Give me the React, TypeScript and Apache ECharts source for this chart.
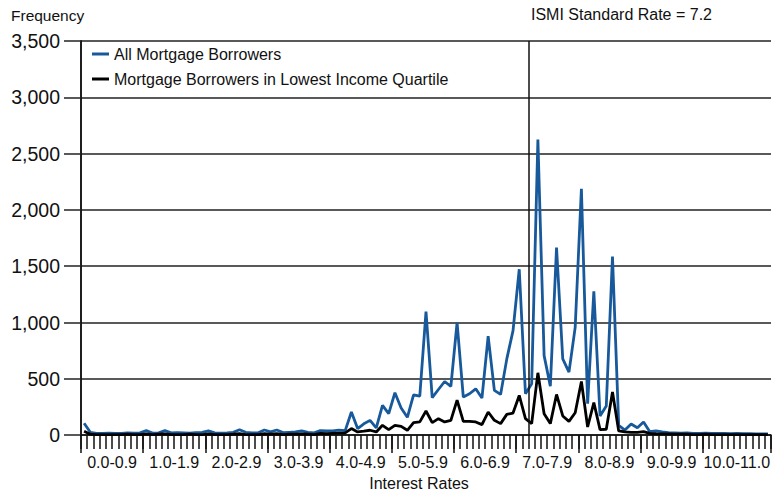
import React, { useEffect, useRef } from "react";
import * as echarts from "echarts";

// Interest-rate categories 0.0 ... 11.0 (step 0.1)
const rates: string[] = Array.from({ length: 111 }, (_, i) => (i / 10).toFixed(1));

const groupLabels = [
  "0.0-0.9", "1.0-1.9", "2.0-2.9", "3.0-3.9", "4.0-4.9", "5.0-5.9",
  "6.0-6.9", "7.0-7.9", "8.0-8.9", "9.0-9.9", "10.0-11.0",
];
// group label positions on the category scale (band units)
const groupLabelPos = [5, 15, 25, 35, 45, 55, 65, 75, 85, 95, 105.5];
const majorTickPos = [0, 10, 20, 30, 40, 50, 60, 70, 80, 90, 100, 111];

const allBorrowers = [
  105, 25, 15, 15, 18, 15, 15, 20, 18, 20,
  40, 18, 20, 40, 20, 22, 20, 18, 22, 25,
  38, 20, 18, 20, 25, 48, 25, 20, 20, 45,
  28, 45, 22, 25, 28, 38, 25, 20, 40, 38,
  38, 45, 40, 205, 58, 100, 131, 64, 264, 190,
  376, 240, 158, 358, 347, 1096, 332, 405, 476, 432,
  1000, 338, 367, 411, 329, 878, 397, 361, 677, 928,
  1473, 367, 456, 2624, 706, 435, 1665, 677, 559, 957,
  2188, 279, 1276, 170, 258, 1586, 87, 45, 98, 65,
  117, 30, 38, 28, 22, 20, 18, 20, 15, 15,
  18, 15, 15, 15, 12, 15, 12, 12, 10, 10, 10,
];

const lowestQuartile = [
  35, 8, 5, 5, 5, 5, 5, 8, 5, 5,
  10, 5, 8, 10, 5, 5, 5, 8, 5, 5,
  10, 5, 5, 5, 8, 12, 5, 5, 5, 12,
  8, 12, 5, 8, 8, 10, 8, 5, 15, 12,
  15, 18, 20, 58, 28, 35, 43, 28, 87, 49,
  87, 78, 43, 111, 117, 214, 111, 146, 117, 130,
  311, 122, 122, 117, 93, 205, 131, 102, 184, 196,
  352, 146, 102, 553, 190, 102, 361, 170, 122, 199,
  476, 72, 288, 49, 52, 382, 37, 28, 25, 25,
  30, 15, 12, 10, 10, 8, 8, 8, 5, 5,
  8, 5, 5, 5, 5, 5, 5, 5, 5, 5, 5,
];

const ismiRate = 7.2;
const seriesNames = ["All Mortgage Borrowers", "Mortgage Borrowers in Lowest Income Quartile"];
const yTicks = [0, 500, 1000, 1500, 2000, 2500, 3000, 3500];

const FONT = "Liberation Sans, Arial, Helvetica, sans-serif";

export default function App() {
  const ref = useRef<HTMLDivElement>(null);
  useEffect(() => {
    if (!ref.current) return;
    const chart = echarts.init(ref.current, undefined, { renderer: "svg" });
    const toPts = (arr: number[]) => arr.map((v, i) => [rates.indexOf(rates[i]) + 0.5, v]);
    const ismiIndex = Math.round(ismiRate * 10);
    chart.setOption({
      animation: false,
      backgroundColor: "#ffffff",
      grid: { left: 81, right: 3, top: 41, bottom: 59.5, containLabel: false },
      legend: {
        show: true,
        orient: "vertical",
        left: 92,
        top: 45,
        padding: 0,
        itemGap: 7,
        itemWidth: 17,
        itemHeight: 3,
        icon: "rect",
        textStyle: { fontFamily: FONT, fontSize: 16, color: "#111", lineHeight: 18 },
        data: seriesNames,
      },
      graphic: [
        {
          type: "text",
          left: 11,
          top: 7,
          style: { text: "Frequency", fontFamily: FONT, fontSize: 15.5, fill: "#111" },
        },
        {
          type: "text",
          left: 531,
          top: 6,
          style: { text: `ISMI Standard Rate = ${ismiRate}`, fontFamily: FONT, fontSize: 16, fill: "#111" },
        },
      ],
      xAxis: [
        {
          type: "value",
          min: 0,
          max: rates.length,
          position: "bottom",
          splitLine: { show: false },
          axisLine: { show: true, lineStyle: { color: "#111", width: 1.5 } },
          axisTick: {
            show: true,
            customValues: rates.map((_, i) => i).concat([rates.length]),
            length: 14,
            lineStyle: { color: "#111", width: 1.5 },
          },
          axisLabel: {
            show: true,
            customValues: groupLabelPos,
            formatter: (v: number) => groupLabels[groupLabelPos.indexOf(v)] ?? "",
            margin: 19,
            fontFamily: FONT,
            fontSize: 16,
            color: "#111",
          },
          name: "Interest Rates",
          nameLocation: "middle",
          nameGap: 38,
          nameTextStyle: { fontFamily: FONT, fontSize: 16, color: "#111", padding: [0, 14, 0, 0] },
        },
        {
          type: "value",
          min: 0,
          max: rates.length,
          position: "bottom",
          splitLine: { show: false },
          axisLine: { show: false },
          axisTick: {
            show: true,
            customValues: majorTickPos,
            length: 18,
            lineStyle: { color: "#111", width: 1.5 },
          },
          axisLabel: { show: false },
        },
      ],
      yAxis: [
        {
          type: "value",
          min: 0,
          max: 3500,
          interval: 500,
          axisLine: { show: true, lineStyle: { color: "#111", width: 1.5 } },
          axisTick: { show: true, length: 17, lineStyle: { color: "#222", width: 1.5 } },
          splitLine: { show: true, lineStyle: { color: "#222", width: 1.5 } },
          axisLabel: {
            margin: 21,
            fontFamily: FONT,
            fontSize: 19.5,
            color: "#111",
            customValues: yTicks,
            formatter: (v: number) => v.toLocaleString("en-US"),
          },
        },
        {
          type: "value",
          min: 0,
          max: 3500,
          position: "right",
          axisLine: { show: true, lineStyle: { color: "#111", width: 1.5 } },
          axisTick: { show: false },
          axisLabel: { show: false },
          splitLine: { show: false },
        },
      ],
      series: [
        {
          name: seriesNames[0],
          type: "line",
          xAxisIndex: 0,
          yAxisIndex: 0,
          data: toPts(allBorrowers),
          showSymbol: false,
          symbol: "none",
          itemStyle: { color: "#17599a" },
          lineStyle: { color: "#17599a", width: 2.8 },
          z: 3,
        },
        {
          name: seriesNames[1],
          type: "line",
          xAxisIndex: 0,
          yAxisIndex: 0,
          data: toPts(lowestQuartile),
          showSymbol: false,
          symbol: "none",
          itemStyle: { color: "#000000" },
          lineStyle: { color: "#000000", width: 2.8 },
          z: 4,
          markLine: {
            silent: true,
            symbol: "none",
            label: { show: false },
            lineStyle: { color: "#111", width: 1.5, type: "solid" },
            data: [{ xAxis: ismiIndex }],
          },
        },
      ],
    });
    return () => chart.dispose();
  }, []);
  return (
    <div
      ref={ref}
      style={{ position: "fixed", left: 0, top: 0, width: 774, height: 496, background: "#fff" }}
    />
  );
}
